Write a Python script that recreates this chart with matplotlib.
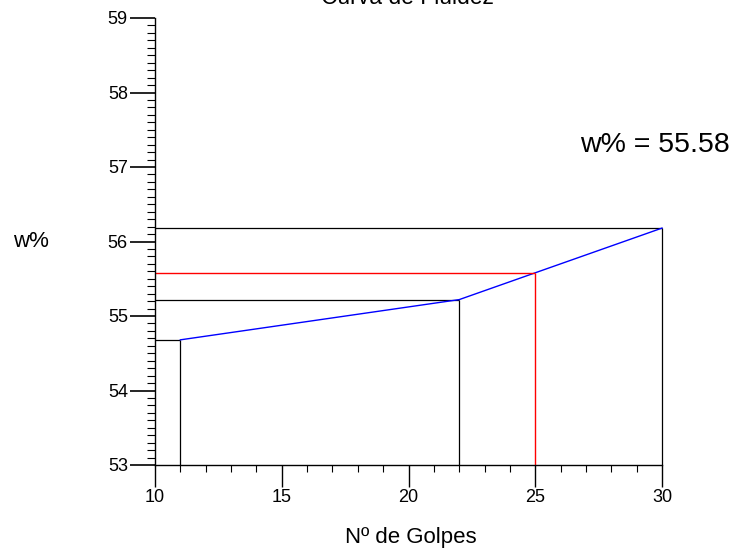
import matplotlib

matplotlib.use("Agg")
import matplotlib.pyplot as plt  # noqa: E402
from matplotlib.ticker import MultipleLocator  # noqa: E402
from matplotlib.transforms import ScaledTranslation  # noqa: E402

plt.rcParams.update({"font.family": ["Liberation Sans", "DejaVu Sans"]})

# data
golpes = [11, 22, 30]
umidade = [54.68, 55.22, 56.18]
golpes_ref = 25
w_ref = 55.58
x_range = (10, 30)
y_range = (53, 59)

fig = plt.figure(figsize=(7.38, 5.48), dpi=100)
ax = fig.add_axes([155 / 738, 1 - 465 / 548, (662 - 155) / 738, (465 - 18) / 548])
ax.set_xlim(*x_range)
ax.set_ylim(*y_range)

lw = 0.9
# guide lines from each point to the axes
ax.hlines(umidade, x_range[0], golpes, colors="black", lw=lw, clip_on=False)
ax.vlines(golpes, y_range[0], umidade, colors="black", lw=lw, clip_on=False)
ax.plot(golpes, umidade, color="#0000ff", lw=1.0, clip_on=False)
# reference at 25 blows
ax.hlines(w_ref, x_range[0], golpes_ref, colors="#ff0000", lw=1.0)
ax.vlines(golpes_ref, y_range[0], w_ref, colors="#ff0000", lw=1.0)

for side in ("top", "right"):
    ax.spines[side].set_visible(False)
for side in ("left", "bottom"):
    ax.spines[side].set_linewidth(1.0)

ax.xaxis.set_major_locator(MultipleLocator(5))
ax.xaxis.set_minor_locator(MultipleLocator(1))
ax.yaxis.set_major_locator(MultipleLocator(1))
ax.yaxis.set_minor_locator(MultipleLocator(0.1))
ax.tick_params(axis="x", which="major", direction="out", length=16, width=1.0,
               pad=1, labelsize=13)
ax.tick_params(axis="x", which="minor", direction="out", length=5, width=0.8)
ax.tick_params(axis="y", which="major", direction="out", length=18, width=1.2,
               pad=1.5, labelsize=13)
ax.tick_params(axis="y", which="minor", direction="out", length=5.5, width=0.8)

# the "10" label sits a little lower than the others
first = ax.get_xticklabels()[0]
first.set_transform(first.get_transform()
                    + ScaledTranslation(0, -3 / 100, fig.dpi_scale_trans))

fig.text(407 / 738, 1 - 4 / 548, "Curva de Fluidez", ha="center", va="baseline",
         fontsize=16.5)
fig.text(411 / 738, 1 - 543 / 548, "Nº de Golpes", ha="center", va="baseline",
         fontsize=16)
fig.text(13 / 738, 1 - 247 / 548, "w%", ha="left", va="baseline", fontsize=16)
fig.text(580 / 738, 1 - 152 / 548, f"w% = {w_ref:.2f}", ha="left", va="baseline",
         fontsize=20.5)

fig.savefig("out.png", dpi=100)
